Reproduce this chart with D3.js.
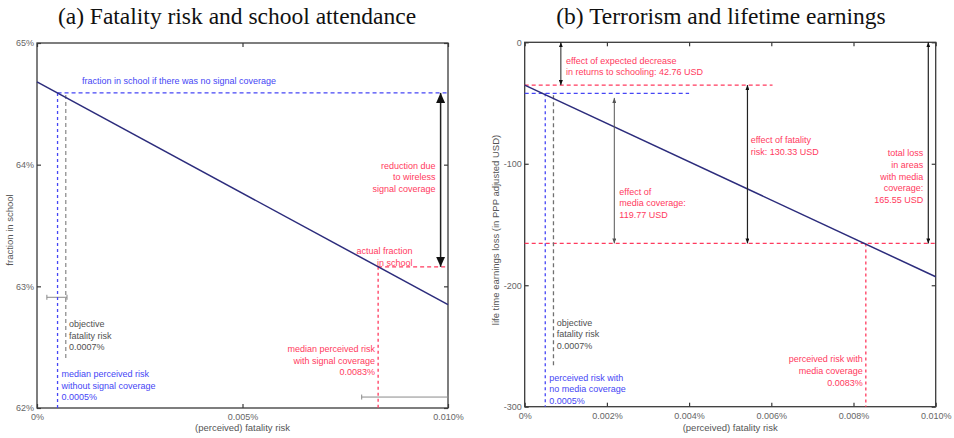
<!DOCTYPE html>
<html><head><meta charset="utf-8">
<script src="https://cdn.jsdelivr.net/npm/d3@7"></script>
<style>
body{margin:0;background:#fff}
text{font-family:"Liberation Sans",Arial,sans-serif}
.title{font-family:"Liberation Serif","Times New Roman",serif}
</style>
</head><body><svg id="chart" width="954" height="438"></svg>
<script>
// ---- Panel (a): fatality risk and school attendance ----
const riskTicksA = [0, 0.005, 0.010];
const schoolTicks = [62, 63, 64, 65];
const schoolLine = [{risk: 0, value: 64.68}, {risk: 0.010, value: 62.85}];
const riskNoSignal = 0.0005;
const riskObjective = 0.0007;
const riskSignal = 0.0083;
const shareNoSignal = 64.59;
const shareActual = 63.16;
const shareObjectiveEnd = 62.4;
const reductionArrowRisk = 0.00982;
const errorBarsA = [
  {lo: 0.00024, hi: 0.00073, value: 62.91},
  {lo: 0.0079, hi: 0.010, value: 62.09}
];

// ---- Panel (b): terrorism and lifetime earnings ----
const riskTicksB = [0, 0.002, 0.004, 0.006, 0.008, 0.010];
const lossTicks = [0, -100, -200, -300];
const totalLoss = 165.55;
const fatalityEffect = 130.33;
const mediaEffect = 119.77;
const schoolingEffect = 42.76;
const earningsLine = [{risk: 0, value: -35.22}, {risk: 0.010, value: -193}];
const earningsNoMedia = -42;
const lossObjectiveEnd = -267;
const arrowRisksB = {schooling: 0.00088, media: 0.00218, fatality: 0.00542, total: 0.00982};
const topRedEnd = 0.00603;
const blueEnd = 0.0040;

const BLUE = "#4646f5", RED = "#ff3a5e", GRAY_T = "#505050", LINE = "#2c2c7c", AXIS = "#3a3a3a";

const svg = d3.select("#chart");
const defs = svg.append("defs");
function arrowMarker(id, w, l, color) {
  defs.append("marker").attr("id", id)
    .attr("viewBox", `0 ${-w/2} ${l} ${w}`)
    .attr("refX", l).attr("refY", 0)
    .attr("markerUnits", "userSpaceOnUse")
    .attr("markerWidth", l).attr("markerHeight", w)
    .attr("orient", "auto-start-reverse")
    .append("path").attr("d", `M0,${-w/2}L${l},0L0,${w/2}Z`).attr("fill", color);
}
arrowMarker("bigHead", 9, 10, "#111");
arrowMarker("smallHead", 4, 5, "#111");
arrowMarker("smallHeadGray", 4, 5, "#555");

function panel(cfg) {
  const g = svg.append("g");
  const x = d3.scaleLinear().domain([0, 0.010]).range([cfg.left, cfg.right]);
  const y = d3.scaleLinear().domain(cfg.yDomain).range([cfg.bottom, cfg.top]);
  // inward ticks on all four sides
  const tk = 4;
  const bottomAxis = d3.axisBottom(x).tickValues(cfg.xTicks).tickSize(-tk).tickFormat(cfg.xFmt).tickPadding(6);
  const topAxis = d3.axisTop(x).tickValues(cfg.xTicks).tickSize(-tk).tickFormat("");
  const leftAxis = d3.axisLeft(y).tickValues(cfg.yTicks).tickSize(-tk).tickFormat(cfg.yFmt).tickPadding(3);
  const rightAxis = d3.axisRight(y).tickValues(cfg.yTicks).tickSize(-tk).tickFormat("");
  const ax = [
    g.append("g").attr("transform", `translate(0,${cfg.bottom})`).call(bottomAxis),
    g.append("g").attr("transform", `translate(0,${cfg.top})`).call(topAxis),
    g.append("g").attr("transform", `translate(${cfg.left},0)`).call(leftAxis),
    g.append("g").attr("transform", `translate(${cfg.right},0)`).call(rightAxis)
  ];
  ax.forEach(a => {
    a.select(".domain").remove();
    a.selectAll(".tick line").attr("stroke", AXIS).attr("stroke-width", 1.2);
    a.selectAll(".tick text").attr("fill", "#666").attr("font-size", 9);
  });
  g.append("rect").attr("x", cfg.left).attr("y", cfg.top)
    .attr("width", cfg.right - cfg.left).attr("height", cfg.bottom - cfg.top)
    .attr("fill", "none").attr("stroke", AXIS).attr("stroke-width", 1.3);
  // axis titles
  g.append("text").attr("x", (cfg.left + cfg.right) / 2).attr("y", 431)
    .attr("text-anchor", "middle").attr("font-size", 9.5).attr("fill", "#555")
    .text("(perceived) fatality risk");
  g.append("text").attr("transform", `translate(${cfg.yTitleX},230) rotate(-90)`)
    .attr("text-anchor", "middle").attr("font-size", 9.5).attr("fill", "#555")
    .text(cfg.yTitle);
  g.append("text").attr("class", "title").attr("x", cfg.titleX).attr("y", 24)
    .attr("text-anchor", "middle").attr("font-size", 23.5).attr("fill", "#111")
    .text(cfg.title);
  return {g, x, y};
}

function dashed(g, x1, y1, x2, y2, color, dash) {
  g.append("line").attr("x1", x1).attr("y1", y1).attr("x2", x2).attr("y2", y2)
    .attr("stroke", color).attr("stroke-width", 1.3).attr("stroke-dasharray", dash || "4,3");
}
function label(g, x, yFirst, lines, color, anchor) {
  const t = g.append("text").attr("x", x).attr("y", yFirst).attr("font-size", 9)
    .attr("fill", color).attr("text-anchor", anchor || "start").attr("dominant-baseline", "central");
  lines.forEach((s, i) => t.append("tspan").attr("x", x).attr("dy", i ? 11.7 : 0).text(s));
}
function arrow(g, x1, y1, x2, y2, color, width, head) {
  g.append("line").attr("x1", x1).attr("y1", y1).attr("x2", x2).attr("y2", y2)
    .attr("stroke", color).attr("stroke-width", width)
    .attr("marker-start", `url(#${head})`).attr("marker-end", `url(#${head})`);
}

const pctFmt = d => d === 0 ? "0%" : d.toFixed(3) + "%";

// ----- Panel (a) -----
{
  const {g, x, y} = panel({
    left: 37, right: 448, top: 43, bottom: 408,
    yDomain: [62, 65], xTicks: riskTicksA, yTicks: schoolTicks,
    xFmt: pctFmt, yFmt: d => d + "%",
    yTitle: "fraction in school", yTitleX: 13,
    title: "(a) Fatality risk and school attendance", titleX: 237
  });
  // error bars
  errorBarsA.forEach(e => {
    const yy = y(e.value);
    g.append("line").attr("x1", x(e.lo)).attr("x2", x(e.hi)).attr("y1", yy).attr("y2", yy)
      .attr("stroke", "#8a8a8a").attr("stroke-width", 1);
    [e.lo, e.hi].forEach(v => g.append("line").attr("x1", x(v)).attr("x2", x(v))
      .attr("y1", yy - 2.5).attr("y2", yy + 2.5).attr("stroke", "#8a8a8a"));
  });
  // reference lines
  dashed(g, x(riskNoSignal), y(shareNoSignal), x(0.010), y(shareNoSignal), BLUE);
  dashed(g, x(riskNoSignal), y(shareNoSignal), x(riskNoSignal), y(62), BLUE, "3,3");
  dashed(g, x(riskObjective), y(shareNoSignal) + 2, x(riskObjective), y(shareObjectiveEnd), "#909090");
  dashed(g, x(riskSignal), y(shareActual), x(0.010), y(shareActual), RED);
  dashed(g, x(riskSignal), y(shareActual), x(riskSignal), y(62), RED, "3,3");
  // main relationship
  g.append("path").datum(schoolLine)
    .attr("d", d3.line().x(d => x(d.risk)).y(d => y(d.value)))
    .attr("fill", "none").attr("stroke", LINE).attr("stroke-width", 1.5);
  // reduction arrow
  arrow(g, x(reductionArrowRisk), y(shareNoSignal), x(reductionArrowRisk), y(shareActual), "#222", 1.5, "bigHead");
  // annotations
  label(g, 82, 81, ["fraction in school if there was no signal coverage"], BLUE);
  label(g, 435.5, 165.5, ["reduction due", "to wireless", "signal coverage"], RED, "end");
  label(g, 412.5, 251, ["actual fraction", "in school"], RED, "end");
  label(g, 69, 324, ["objective", "fatality risk", "0.0007%"], GRAY_T);
  label(g, 61.5, 374, ["median perceived risk", "without signal coverage", "0.0005%"], BLUE);
  label(g, 375, 349, ["median perceived risk", "with signal coverage", "0.0083%"], RED, "end");
}

// ----- Panel (b) -----
{
  const {g, x, y} = panel({
    left: 524.7, right: 935.7, top: 42.3, bottom: 406.7,
    yDomain: [-300, 0], xTicks: riskTicksB, yTicks: lossTicks,
    xFmt: pctFmt, yFmt: d => String(d),
    yTitle: "life time earnings loss (in PPP adjusted USD)", yTitleX: 499,
    title: "(b) Terrorism and lifetime earnings", titleX: 721
  });
  const lossWithMedia = -totalLoss;
  const lossAtZeroRisk = -totalLoss + fatalityEffect;
  // reference lines
  dashed(g, x(0), y(lossAtZeroRisk), x(topRedEnd), y(lossAtZeroRisk), RED);
  dashed(g, x(0), y(earningsNoMedia), x(blueEnd), y(earningsNoMedia), BLUE);
  dashed(g, x(0), y(lossWithMedia), x(0.010), y(lossWithMedia), RED);
  dashed(g, x(riskNoSignal), y(earningsNoMedia), x(riskNoSignal), y(-300), BLUE, "3,3");
  dashed(g, x(riskObjective), y(earningsNoMedia) + 2, x(riskObjective), y(lossObjectiveEnd), "#707070");
  dashed(g, x(riskSignal), y(lossWithMedia), x(riskSignal), y(-300), RED, "3,3");
  // main relationship
  g.append("path").datum(earningsLine)
    .attr("d", d3.line().x(d => x(d.risk)).y(d => y(d.value)))
    .attr("fill", "none").attr("stroke", LINE).attr("stroke-width", 1.5);
  // effect arrows
  arrow(g, x(arrowRisksB.schooling), y(0), x(arrowRisksB.schooling), y(lossAtZeroRisk), "#222", 1, "smallHead");
  arrow(g, x(arrowRisksB.media), y(lossWithMedia + mediaEffect), x(arrowRisksB.media), y(lossWithMedia), "#555", 1, "smallHeadGray");
  arrow(g, x(arrowRisksB.fatality), y(lossAtZeroRisk), x(arrowRisksB.fatality), y(lossWithMedia), "#222", 1.2, "smallHead");
  arrow(g, x(arrowRisksB.total), y(0), x(arrowRisksB.total), y(lossWithMedia), "#222", 1.2, "smallHead");
  // annotations
  label(g, 566, 60.7, ["effect of expected decrease", "in returns to schooling: " + schoolingEffect.toFixed(2) + " USD"], RED);
  label(g, 750.7, 140, ["effect of fatality", "risk: " + fatalityEffect.toFixed(2) + " USD"], RED);
  label(g, 619.3, 191.7, ["effect of", "media coverage:", mediaEffect.toFixed(2) + " USD"], RED);
  label(g, 923.3, 153.3, ["total loss", "in areas", "with media", "coverage:", totalLoss.toFixed(2) + " USD"], RED, "end");
  label(g, 556.7, 322.7, ["objective", "fatality risk", "0.0007%"], GRAY_T);
  label(g, 549.3, 377.7, ["perceived risk with", "no media coverage", "0.0005%"], BLUE);
  label(g, 862.7, 359.3, ["perceived risk with", "media coverage", "0.0083%"], RED, "end");
}
</script></body></html>
